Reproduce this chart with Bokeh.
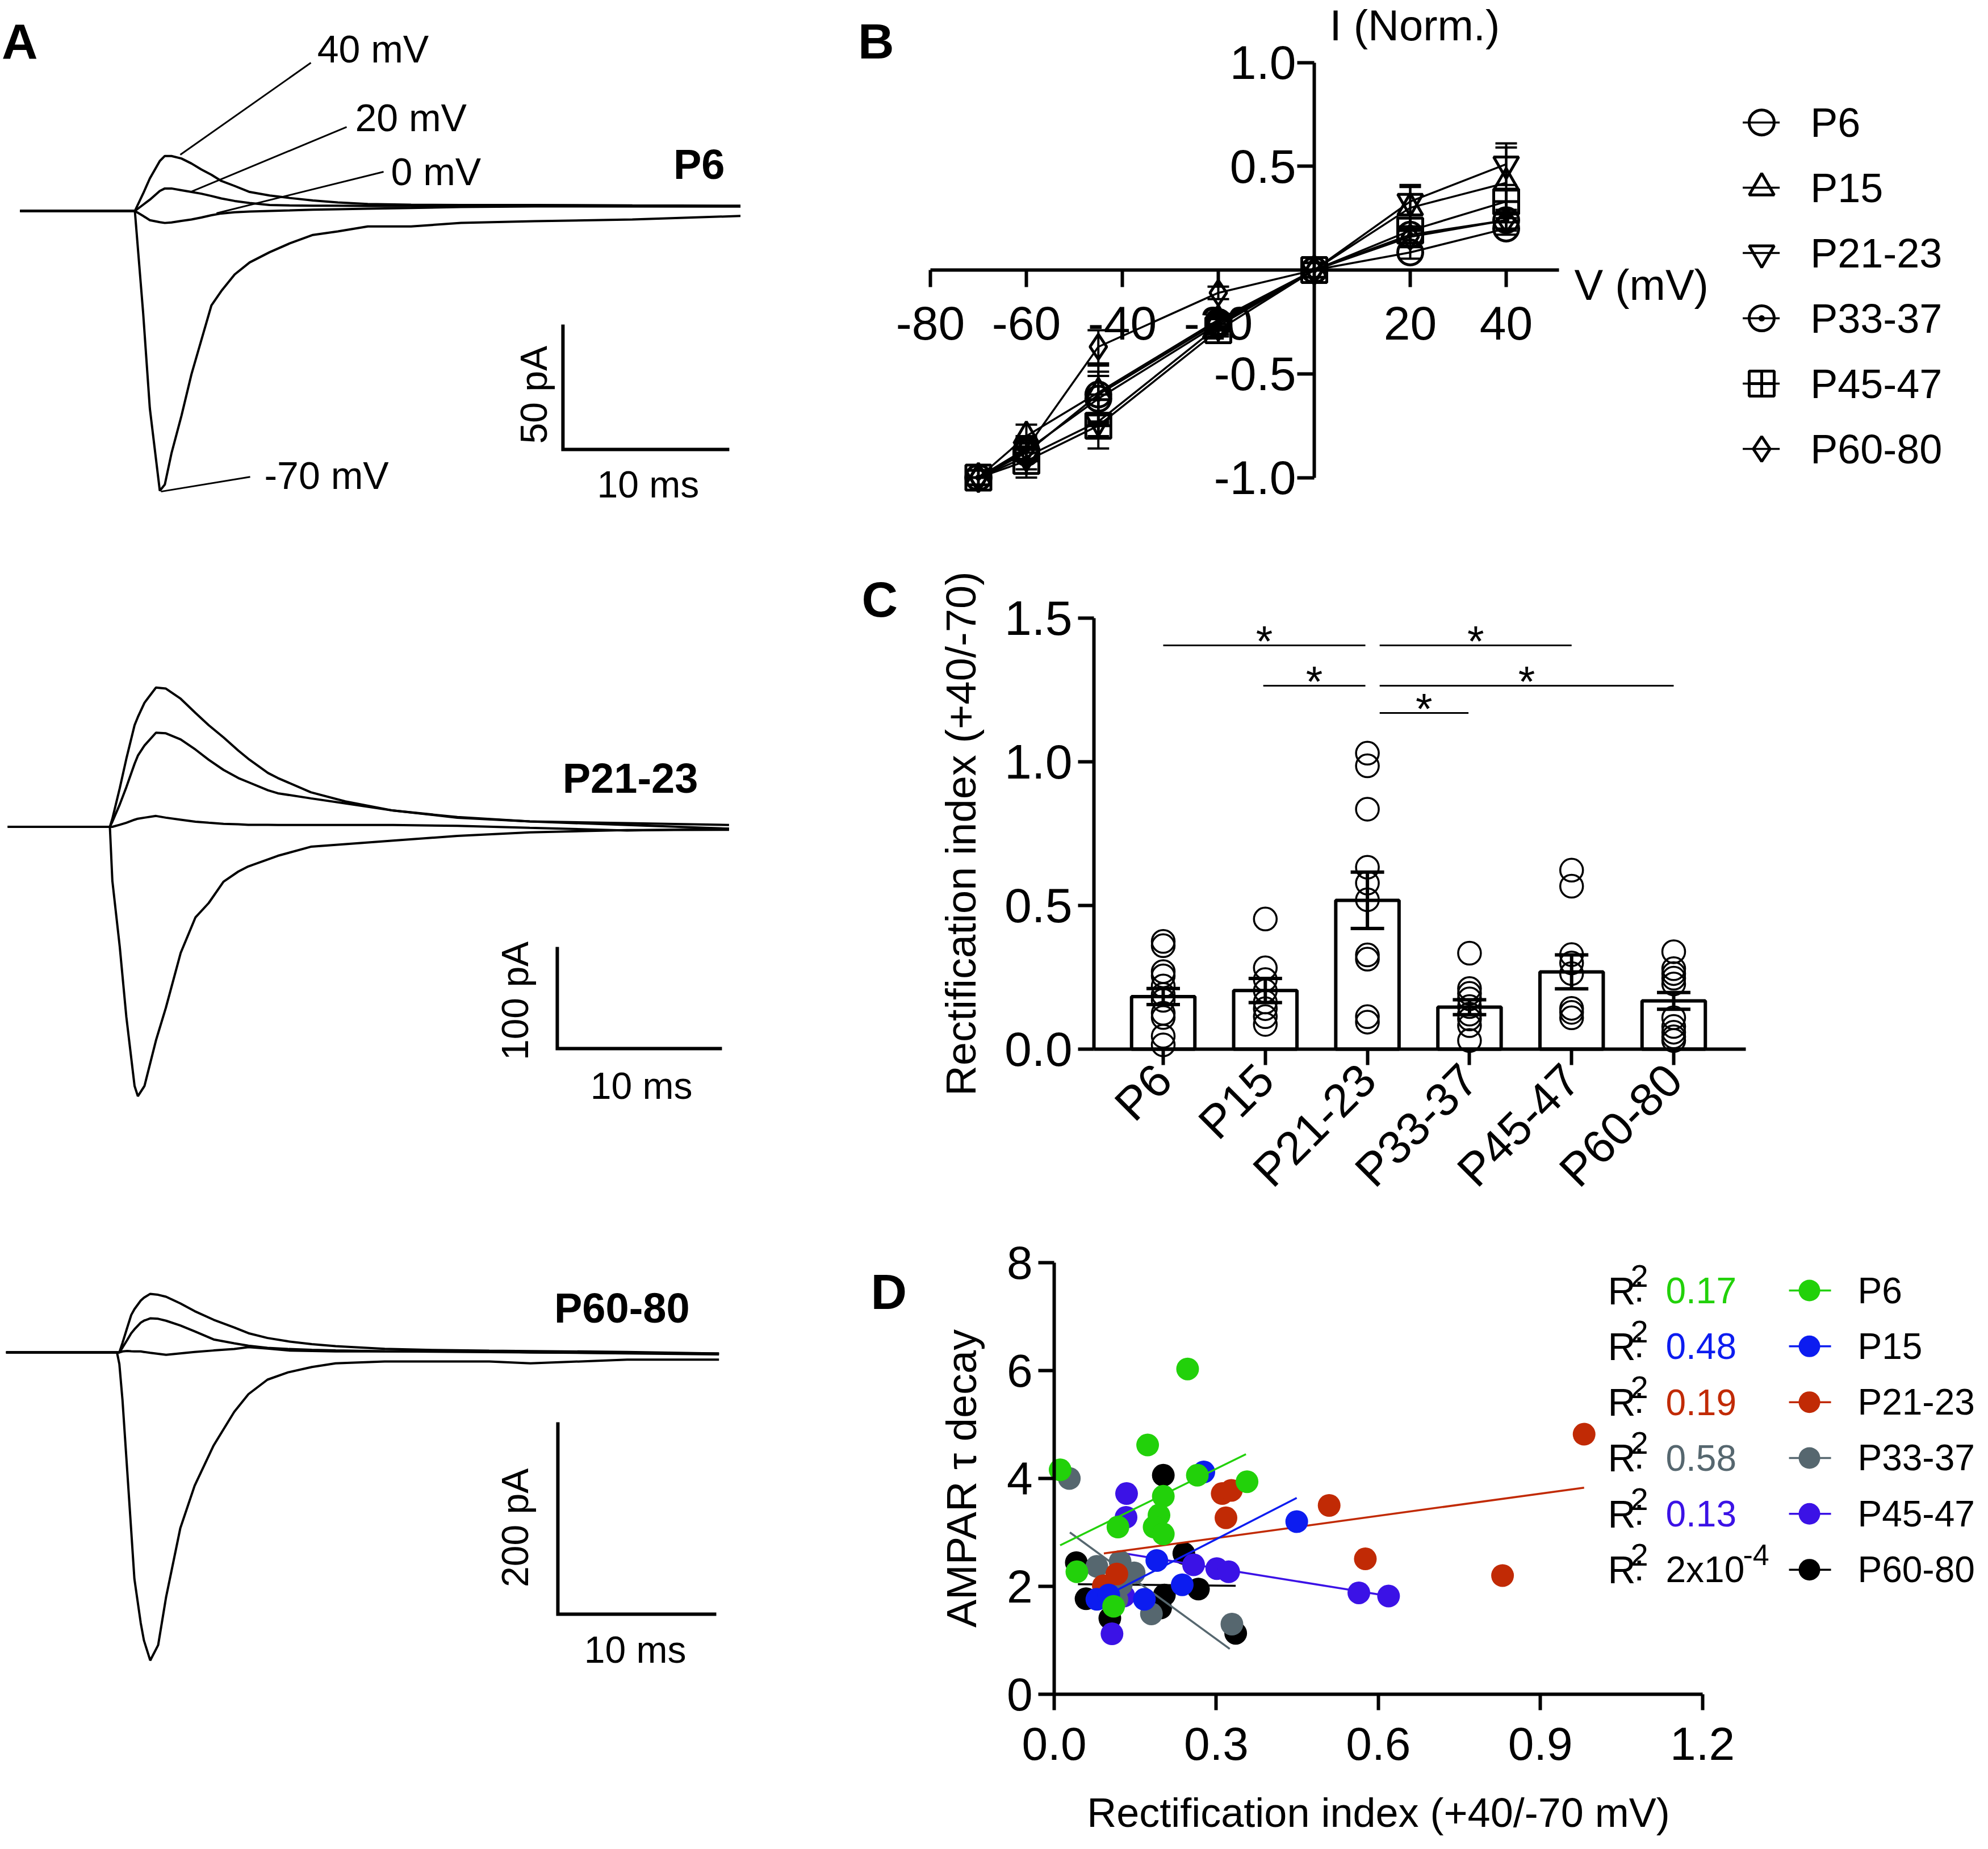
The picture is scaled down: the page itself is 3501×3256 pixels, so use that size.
from math import pi
from bokeh.plotting import figure
from bokeh.layouts import row, column
from bokeh.models import (Range1d, FixedTicker, PrintfTickFormatter, Whisker,
                          TeeHead, ColumnDataSource)
from bokeh.core.properties import value
from bokeh.embed import file_html
from bokeh.resources import INLINE

FONT = "Liberation Sans"

# ======================= DATA =======================
# ---- Panel A: example traces (time in ms from stimulus, current in pA) ----
a1_t   = [-6.9, 0, 0.5, 0.9, 1.5, 1.8, 2.2, 2.8, 3.4, 4.0, 4.6, 5.2, 6.0, 6.9, 8.1, 9.3, 10.7, 12.2, 14.0, 16.6, 19.6, 24.0, 29.9, 36.4]
a1_p40 = [0, 0, 7, 13, 20, 22, 22, 21, 19, 16.6, 14.5, 12, 10, 7.6, 6.2, 5.2, 4.2, 3.4, 2.8, 2.5, 2.4, 2.4, 2.2, 2.1]
a1_p20 = [0, 0, 2.5, 4.5, 8, 9, 9, 8.3, 7.6, 6.9, 6, 5, 4, 3.2, 2.4, 2.2, 2.1, 2.1, 2, 2, 2, 2, 1.9, 1.8]
a1_z0  = [0, 0, -2, -3.7, -4.5, -4.8, -4.6, -4, -3.4, -2.6, -1.7, -1.0, -0.5, -0.2, 0, 0.2, 0.5, 0.7, 0.9, 1.2, 1.6, 1.8, 1.8, 1.8]
a1_m70 = [0, 0, -41, -79, -112, -109.5, -97, -82, -65.4, -51.6, -37.8, -32, -25.4, -20.6, -16.5, -13, -9.6, -8.2, -6.2, -6.2, -4.8, -4.1, -3.4, -2.0]

a2_t   = [-6.2, 0, 0.15, 0.6, 1.0, 1.5, 1.7, 2.1, 2.8, 3.4, 4.3, 5.2, 6.0, 6.9, 7.8, 8.4, 9.6, 10.2, 12.2, 14.3, 17.2, 21.1, 25.5, 31.4, 37.6]
a2_p40 = [0, 0, 8, 38, 67, 100, 108, 122, 137, 136, 126, 112, 100, 88, 75, 67, 53, 48, 34, 25, 16, 9.6, 5.3, 3.6, 1.8]
a2_p20 = [0, 0, 5, 22, 39, 62, 70, 80, 92.6, 92, 86, 76, 66, 56, 48, 44, 36, 33, 28, 23, 16, 9, 5.3, 1.8, -1.8]
a2_z0  = [0, 0, 0, 2, 4, 7, 8, 9, 10.7, 9, 7, 5, 4, 3, 2.5, 2, 2, 1.8, 1.8, 1.8, 1.8, 1, -1, -3.6, -1.8]
a2_m70 = [0, 0, -53, -118, -187, -255, -265, -255, -210, -178, -124, -89, -75, -54, -44, -39, -32, -28.5, -19.6, -17, -13.5, -9, -5.5, -3.2, -2.9]

a3_t   = [-7.0, 0, 0.15, 0.35, 0.65, 0.9, 1.1, 1.5, 1.7, 2.1, 2.6, 3.1, 4.0, 4.9, 6.1, 7.4, 8.3, 9.5, 10.8, 12.3, 13.8, 16.9, 19.9, 23.5, 26.1, 32.2, 38.0]
a3_p40 = [0, 0, 0, 10, 26, 39, 45, 54, 57, 61, 60, 58, 51, 43, 34, 26, 20, 15, 11.5, 8.6, 6.5, 3.7, 2.5, 1.8, 1.4, 0.5, -1.2]
a3_p20 = [0, 0, 0, 5, 13, 20, 24, 31, 33, 35.5, 35, 33, 28, 22, 13.5, 9.5, 7, 4.8, 3.5, 2.6, 2, 1.2, 0.7, 0.3, 0, -0.6, -1.2]
a3_z0  = [0, 0, 0, 1, 1.5, 1.2, 1, 1, 0.5, -0.5, -1.5, -2.5, -1, 0.5, 2, 3.5, 5.5, 4, 2, 1.5, 1.1, 1.1, 1.1, 1.1, 0, -1, -2]
a3_m70 = [0, 0, -12, -50, -124, -186, -236, -282, -300, -321, -305, -255, -183, -139, -97, -62, -43.5, -28.4, -20.8, -15.2, -11.4, -9.5, -9.5, -9.5, -11.4, -7.6, -7.6]

a_names = ["P6", "P21-23", "P60-80"]
a_scale_ms = [10, 10, 10]
a_scale_pa = [50, 100, 200]
a1_volt_labels = ["40 mV", "20 mV", "0 mV", "-70 mV"]

# ---- Panel B: normalized I-V ----
b_v = [-70, -60, -45, -20, 0, 20, 40]
b_groups = ["P6", "P15", "P21-23", "P33-37", "P45-47", "P60-80"]
b_markers = ["circle", "triangle", "inverted_triangle", "circle_dot", "square_cross", "diamond"]
b_p6  = [-1, -0.88, -0.60, -0.25, 0, 0.085, 0.20]
b_p15 = [-1, -0.80, -0.59, -0.24, 0, 0.30, 0.42]
b_p21 = [-1, -0.90, -0.73, -0.27, 0, 0.33, 0.51]
b_p33 = [-1, -0.87, -0.62, -0.26, 0, 0.17, 0.24]
b_p45 = [-1, -0.92, -0.75, -0.29, 0, 0.19, 0.33]
b_p60 = [-1, -0.86, -0.37, -0.11, 0, 0.16, 0.24]
b_sem_p6  = [0, 0.03, 0.14, 0.03, 0, 0.03, 0.03]
b_sem_p15 = [0, 0.055, 0.10, 0.03, 0, 0.10, 0.17]
b_sem_p21 = [0, 0.10, 0.13, 0.04, 0, 0.08, 0.10]
b_sem_p33 = [0, 0.05, 0.11, 0.03, 0, 0.04, 0.04]
b_sem_p45 = [0, 0.04, 0.05, 0.03, 0, 0.06, 0.06]
b_sem_p60 = [0, 0.05, 0.08, 0.03, 0, 0.05, 0.05]

# ---- Panel C: rectification index ----
c_groups = ["P6", "P15", "P21-23", "P33-37", "P45-47", "P60-80"]
c_mean = [0.183, 0.204, 0.518, 0.146, 0.269, 0.168]
c_sem  = [0.028, 0.042, 0.098, 0.026, 0.059, 0.029]
c_p6  = [0.375, 0.36, 0.27, 0.255, 0.22, 0.19, 0.17, 0.125, 0.11, 0.045, 0.015]
c_p15 = [0.453, 0.283, 0.242, 0.203, 0.164, 0.141, 0.113, 0.086]
c_p21 = [1.03, 0.986, 0.835, 0.633, 0.578, 0.52, 0.328, 0.313, 0.113, 0.094]
c_p33 = [0.334, 0.211, 0.194, 0.175, 0.148, 0.122, 0.105, 0.082, 0.03]
c_p45 = [0.623, 0.567, 0.329, 0.30, 0.263, 0.142, 0.128, 0.109]
c_p60 = [0.339, 0.28, 0.263, 0.247, 0.227, 0.109, 0.079, 0.059, 0.043, 0.03]
c_sig_x0 = [1.0, 3.12, 1.98, 3.12, 3.12]
c_sig_x1 = [2.98, 5.0, 2.98, 6.0, 3.99]
c_sig_y  = [1.405, 1.405, 1.265, 1.265, 1.17]

# ---- Panel D: tau decay vs rectification index ----
d_groups = ["P6", "P15", "P21-23", "P33-37", "P45-47", "P60-80"]
d_colors = ["#22d10a", "#0c1cf0", "#c12a05", "#56676f", "#3b12e6", "#000000"]
d_p6_x  = [0.011, 0.173, 0.247, 0.265, 0.357, 0.202, 0.194, 0.118, 0.185, 0.202, 0.042, 0.110]
d_p6_y  = [4.16, 4.62, 6.03, 4.06, 3.94, 3.67, 3.32, 3.10, 3.10, 2.97, 2.27, 1.63]
d_p15_x = [0.277, 0.449, 0.190, 0.237, 0.167, 0.079, 0.101]
d_p15_y = [4.12, 3.20, 2.48, 2.03, 1.76, 1.76, 1.84]
d_p21_x = [0.311, 0.328, 0.318, 0.509, 0.576, 0.116, 0.091, 0.981, 0.830]
d_p21_y = [3.72, 3.78, 3.27, 3.50, 2.51, 2.23, 2.01, 4.82, 2.20]
d_p33_x = [0.028, 0.079, 0.122, 0.148, 0.124, 0.180, 0.329, 0.116]
d_p33_y = [4.00, 2.37, 2.46, 2.25, 2.03, 1.49, 1.30, 1.76]
d_p45_x = [0.134, 0.133, 0.258, 0.301, 0.323, 0.564, 0.619, 0.107, 0.129]
d_p45_y = [3.72, 3.28, 2.40, 2.33, 2.27, 1.88, 1.82, 1.12, 1.82]
d_p60_x = [0.202, 0.240, 0.041, 0.204, 0.267, 0.059, 0.103, 0.197, 0.336]
d_p60_y = [4.06, 2.61, 2.44, 1.84, 1.95, 1.77, 1.41, 1.60, 1.13]
d_fit_x0 = [0.011, 0.079, 0.092, 0.029, 0.124, 0.044]
d_fit_y0 = [2.76, 1.74, 2.61, 3.00, 2.62, 2.04]
d_fit_x1 = [0.355, 0.449, 0.981, 0.325, 0.619, 0.336]
d_fit_y1 = [4.45, 3.64, 3.83, 0.84, 1.82, 2.01]
d_r2 = ["0.17", "0.48", "0.19", "0.58", "0.13", "2x10"]
d_r2_colors = ["#22d10a", "#0c1cf0", "#c12a05", "#56676f", "#3b12e6", "#000000"]

# ======================= HELPERS =======================
def make_fig(x0, y0, w, h, ox, sx, oy, sy, axes=False):
    """Figure whose frame fills its box; data -> page pixel: X = ox + x*sx, Y = oy - y*sy."""
    xr = Range1d((x0 - ox) / sx, (x0 + w - ox) / sx)
    yr = Range1d((oy - (y0 + h)) / sy, (oy - y0) / sy)
    kw = dict(width=w, height=h, x_range=xr, y_range=yr, output_backend="svg",
              toolbar_location=None, title=None, min_border=0,
              outline_line_color=None, background_fill_color="white",
              border_fill_color="white")
    if not axes:
        kw.update(x_axis_type=None, y_axis_type=None)
    p = figure(**kw)
    if axes:
        p.xgrid.visible = False
        p.ygrid.visible = False
    return p


def txt(p, x, y, s, size, align="left", baseline="middle", color="black",
        bold=False, angle=0.0):
    p.text(x=[x], y=[y], text=[s], text_font=value(FONT),
           text_font_size=f"{size}px", text_align=align,
           text_baseline=baseline, text_color=color,
           text_font_style="bold" if bold else "normal", angle=angle)


def style_axis(ax, size):
    ax.axis_line_width = 6
    ax.axis_line_color = "black"
    ax.major_tick_line_width = 6
    ax.major_tick_line_color = "black"
    ax.major_tick_in = 0
    ax.major_tick_out = 28
    ax.minor_tick_line_color = None
    ax.major_label_text_font = FONT
    ax.major_label_text_font_size = f"{size}px"
    ax.major_label_text_color = "black"
    ax.axis_label_text_font = FONT
    ax.axis_label_text_font_style = "normal"
    ax.axis_label_text_font_size = "74px"
    ax.axis_label_text_color = "black"


def trace_panel(y0, h, stim, pxms, base, pxpa, t, traces, bar_org, k,
                pa_lbl, ms_lbl, name_pos):
    p = make_fig(8, y0, 1332, h, stim, pxms, base, pxpa)
    for tr in traces:
        p.line(t, tr, line_width=4, color="black")
    t0, i0 = bar_org
    p.line([t0, t0, t0 + a_scale_ms[k]], [i0 + a_scale_pa[k], i0, i0],
           line_width=6, color="black", line_join="miter")
    txt(p, pa_lbl[0], pa_lbl[1], f"{a_scale_pa[k]} pA", 66, align="center", angle=pi / 2)
    txt(p, ms_lbl[0], ms_lbl[1], f"{a_scale_ms[k]} ms", 66, align="center")
    txt(p, name_pos[0], name_pos[1], a_names[k], 74, align="right", bold=True)
    return p

# ======================= PANEL A =======================
pA1 = trace_panel(8, 942, 245, 29.3, 379, 4.4, a1_t,
                  [a1_p40, a1_p20, a1_z0, a1_m70], (25.73, -95.45), 0,
                  (23.96, -73.6), (30.85, -109.5), (35.46, 18.6))
lead_t0 = [2.73, 3.38, 4.91, 1.57]
lead_i0 = [22.5, 7.7, -0.9, -112.3]
lead_t1 = [10.58, 12.73, 14.95, 6.93]
lead_i1 = [59.3, 33.6, 15.7, -106.4]
pA1.segment(x0=lead_t0, y0=lead_i0, x1=lead_t1, y1=lead_i1, line_width=3, color="black")
lbl_t = [10.96, 13.24, 15.39, 7.78]
lbl_i = [64.8, 37.3, 15.7, -105.7]
for s, tt, ii in zip(a1_volt_labels, lbl_t, lbl_i):
    txt(pA1, tt, ii, s, 68)
txt(pA1, -8.0, 68.0, "A", 88, bold=True)

pA2 = trace_panel(950, 1200, 201, 29.0, 1463.5, 1.79, a2_t,
                  [a2_p40, a2_p20, a2_z0, a2_m70], (27.17, -218.2), 1,
                  (24.62, -171.2), (32.28, -255.0), (35.72, 47.8))

pA3 = trace_panel(2150, 1098, 213.5, 27.9, 2389, 1.69, a3_t,
                  [a3_p40, a3_p20, a3_z0, a3_m70], (27.83, -272.8), 2,
                  (25.14, -182.8), (32.71, -309.5), (36.15, 46.2))

# ======================= PANEL B =======================
pB = make_fig(1340, 8, 2153, 942, 2322, 8.45, 483, 365.5, axes=True)
b_vals = [b_p6, b_p15, b_p21, b_p33, b_p45, b_p60]
b_sems = [b_sem_p6, b_sem_p15, b_sem_p21, b_sem_p33, b_sem_p45, b_sem_p60]
for vals in b_vals:
    pB.line(b_v, vals, line_width=3.5, color="black")
for vals, sems in zip(b_vals, b_sems):
    vv = [v for v, s in zip(b_v, sems) if s > 0]
    up = [y + s for y, s in zip(vals, sems) if s > 0]
    lo = [y - s for y, s in zip(vals, sems) if s > 0]
    src = ColumnDataSource(dict(v=vv, up=up, lo=lo))
    pB.add_layout(Whisker(source=src, base="v", upper="up", lower="lo",
                          line_width=4, level="overlay",
                          upper_head=TeeHead(size=38, line_width=4),
                          lower_head=TeeHead(size=38, line_width=4)))
for vals, m in zip(b_vals, b_markers):
    pB.scatter(b_v, vals, marker=m, size=44, fill_color=None,
               line_color="black", line_width=5)

bx, by = pB.xaxis[0], pB.yaxis[0]
for ax in (bx, by):
    style_axis(ax, 84)
    ax.fixed_location = 0
    ax.major_tick_out = 30
bx.bounds = (-80, 51)
bx.ticker = FixedTicker(ticks=[-80, -60, -40, -20, 20, 40])
bx.formatter = PrintfTickFormatter(format="%d")
bx.major_label_standoff = 34
by.bounds = (-1, 1)
by.ticker = FixedTicker(ticks=[-1.0, -0.5, 0.5, 1.0])
by.formatter = PrintfTickFormatter(format="%.1f")
by.major_label_standoff = 2

txt(pB, 3.2, 1.179, "I (Norm.)", 76)
txt(pB, 54.2, -0.071, "V (mV)", 76)
txt(pB, -95.1, 1.1026, "B", 88, bold=True)

# legend of B
leg_top, leg_step = 0.711, 0.3146
for k, (g, m) in enumerate(zip(b_groups, b_markers)):
    yy = leg_top - k * leg_step
    pB.segment(x0=[89.3], y0=[yy], x1=[97.0], y1=[yy], line_width=3.5, color="black")
    pB.scatter([93.25], [yy], marker=m, size=44, fill_color=None,
               line_color="black", line_width=5)
    txt(pB, 103.4, yy, g, 72)

# ======================= PANEL C =======================
pC = make_fig(1340, 950, 2153, 1200, 2056 - 179.8, 179.8, 1855, 506, axes=True)
c_x = list(range(1, len(c_groups) + 1))
pC.vbar(x=c_x, top=c_mean, bottom=0, width=0.62, fill_color="white",
        line_color="black", line_width=6)
for k, pts in zip(c_x, [c_p6, c_p15, c_p21, c_p33, c_p45, c_p60]):
    pC.scatter([k] * len(pts), pts, marker="circle", size=40, fill_color=None,
               line_color="black", line_width=3.5)
csrc = ColumnDataSource(dict(x=c_x,
                             up=[m + s for m, s in zip(c_mean, c_sem)],
                             lo=[m - s for m, s in zip(c_mean, c_sem)]))
pC.add_layout(Whisker(source=csrc, base="x", upper="up", lower="lo",
                      line_width=6, level="overlay",
                      upper_head=TeeHead(size=59, line_width=6),
                      lower_head=TeeHead(size=59, line_width=6)))
pC.segment(x0=c_sig_x0, y0=c_sig_y, x1=c_sig_x1, y1=c_sig_y, line_width=3, color="black")
for a, b, yv in zip(c_sig_x0, c_sig_x1, c_sig_y):
    txt(pC, (a + b) / 2, yv + 0.016, "*", 76, align="center")

cx, cy = pC.xaxis[0], pC.yaxis[0]
style_axis(cx, 82)
style_axis(cy, 86)
cy.fixed_location = (1934 - (2056 - 179.8)) / 179.8
cy.bounds = (0, 1.5)
cy.ticker = FixedTicker(ticks=[0, 0.5, 1.0, 1.5])
cy.formatter = PrintfTickFormatter(format="%.1f")
cy.major_label_standoff = 10
cy.axis_label = "Rectification index (+40/-70)"
cy.axis_label_standoff = 32
cx.fixed_location = 0
cx.bounds = (cy.fixed_location, 6.706)
cx.ticker = FixedTicker(ticks=c_x)
cx.major_label_overrides = {k: g for k, g in zip(c_x, c_groups)}
cx.major_label_orientation = pi / 4
cx.major_label_standoff = 12
txt(pC, -1.953, 1.565, "C", 88, bold=True)

# ======================= PANEL D =======================
pD = make_fig(1340, 2150, 2153, 1098, 1864, 951.3, 2991, 95, axes=True)
d_xs = [d_p6_x, d_p15_x, d_p21_x, d_p33_x, d_p45_x, d_p60_x]
d_ys = [d_p6_y, d_p15_y, d_p21_y, d_p33_y, d_p45_y, d_p60_y]
for k in reversed(range(len(d_groups))):
    pD.segment(x0=[d_fit_x0[k]], y0=[d_fit_y0[k]], x1=[d_fit_x1[k]], y1=[d_fit_y1[k]],
               line_width=3.5, color=d_colors[k])
    pD.scatter(d_xs[k], d_ys[k], marker="circle", size=40, fill_color=d_colors[k],
               line_color=None)

dx, dy = pD.xaxis[0], pD.yaxis[0]
style_axis(dx, 82)
style_axis(dy, 82)
dx.fixed_location = 0
dx.bounds = (0, 1.2)
dx.ticker = FixedTicker(ticks=[0, 0.3, 0.6, 0.9, 1.2])
dx.formatter = PrintfTickFormatter(format="%.1f")
dx.major_label_standoff = 30
dx.axis_label = "Rectification index (+40/-70 mV)"
dx.axis_label_standoff = 50
dx.axis_label_text_font_size = "72px"
dy.fixed_location = 0
dy.bounds = (0, 8)
dy.ticker = FixedTicker(ticks=[0, 2, 4, 6, 8])
dy.formatter = PrintfTickFormatter(format="%d")
dy.major_label_standoff = 10
dy.axis_label = "AMPAR \u03c4 decay"
dy.axis_label_standoff = 35
txt(pD, -0.3395, 7.463, "D", 88, bold=True)

# legend of D with R^2 values
r_top, r_step = 7.484, 1.035
px = 1 / 951.3
py = 1 / 95
for k in range(len(d_groups)):
    yy = r_top - k * r_step
    txt(pD, 1.0249, yy, "R", 68)
    txt(pD, 1.0249 + 40 * px, yy + 26 * py, "2", 56)
    txt(pD, 1.0249 + 46 * px, yy + 4 * py, ":", 66)
    txt(pD, 1.1321, yy, d_r2[k], 64, color=d_r2_colors[k])
    pD.segment(x0=[1.3603], y0=[yy], x1=[1.4381], y1=[yy], line_width=3.5,
               color=d_colors[k])
    pD.scatter([1.3981], [yy], marker="circle", size=38, fill_color=d_colors[k],
               line_color=None)
    txt(pD, 1.4874, yy, d_groups[k], 64)
txt(pD, 1.1321 + 136 * px, r_top - 5 * r_step + 26 * py, "-4", 52)

layout = column(row(pA1, pB), row(pA2, pC), row(pA3, pD))
open("out.html", "w").write(file_html(layout, INLINE))
